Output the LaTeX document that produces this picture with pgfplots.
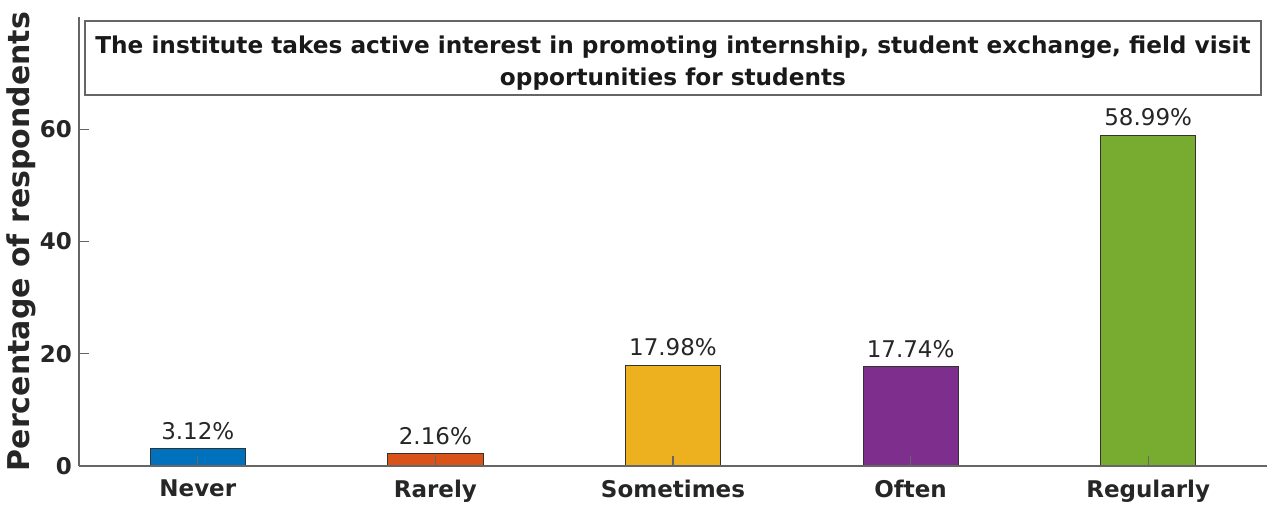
\documentclass[border=0pt]{standalone}
\usepackage{pgfplots}
\pgfplotsset{compat=1.18}
\usepackage{fontspec}
\setmainfont{DejaVu Sans}
\definecolor{c1}{rgb}{0,0.447,0.741}
\definecolor{c2}{rgb}{0.85,0.325,0.098}
\definecolor{c3}{rgb}{0.929,0.694,0.125}
\definecolor{c4}{rgb}{0.494,0.184,0.556}
\definecolor{c5}{rgb}{0.466,0.674,0.188}
\definecolor{axgray}{gray}{0.4}
\definecolor{txtgray}{gray}{0.15}
\begin{document}
\begin{tikzpicture}
\useasboundingbox (-39.5pt,-21.5pt) rectangle (595pt,233pt);
\begin{axis}[
  scale only axis,
  width=594pt, height=224.5pt,
  xmin=0.5, xmax=5.5, ymin=0, ymax=80,
  axis x line=bottom, axis y line=left,
  axis line style={axgray, line width=0.8pt, -},
  axis on top,
  xtick={1,2,3,4,5},
  xticklabels={Never,Rarely,Sometimes,Often,Regularly},
  ytick={0,20,40,60},
  tick align=inside,
  major tick length=5pt,
  tick style={axgray, line width=0.6pt},
  /pgf/number format/assume math mode=true,
  ticklabel style={font=\fontsize{11.5}{13}\selectfont\bfseries, text=txtgray},
  xticklabel style={yshift=-3.5pt},
  ylabel={Percentage of respondents},
  ylabel style={font=\fontsize{15}{17}\selectfont\bfseries, text=txtgray, yshift=-5pt},
  nodes near coords={\pgfmathprintnumber[fixed,precision=2,fixed zerofill]{\pgfplotspointmeta}\%},
  nodes near coords style={font=\fontsize{11.5}{13}\selectfont, text=txtgray, yshift=1pt},
  every axis plot/.append style={ybar, bar width=0.4, bar shift=0pt, draw=black!80, line width=0.4pt},
  clip=false,
]
\addplot[fill=c1] coordinates {(1,3.12)};
\addplot[fill=c2] coordinates {(2,2.16)};
\addplot[fill=c3] coordinates {(3,17.98)};
\addplot[fill=c4] coordinates {(4,17.74)};
\addplot[fill=c5] coordinates {(5,58.99)};
\draw[axgray, line width=0.8pt] (axis cs:0.525,66.1) rectangle (axis cs:5.475,79.3);
\node[align=center, font=\fontsize{11.6}{16}\selectfont\bfseries, text=black!90, yshift=-2.5pt] at (axis cs:3,72.7)
  {The institute takes active interest in promoting internship, student exchange, field visit\\opportunities for students};
\end{axis}
\end{tikzpicture}
\end{document}
